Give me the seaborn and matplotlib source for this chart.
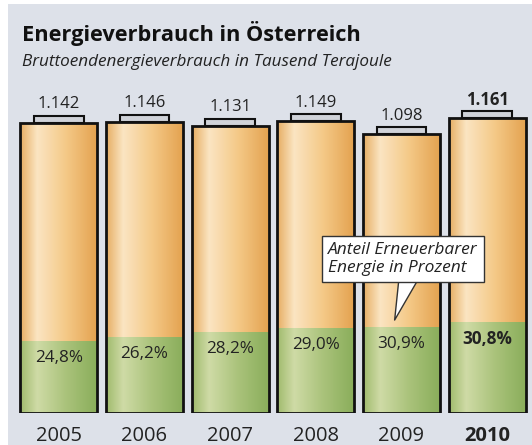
import matplotlib
matplotlib.use("Agg")
import matplotlib.pyplot as plt
import seaborn as sns
import numpy as np
from matplotlib.colors import LinearSegmentedColormap
from matplotlib.patches import Rectangle

# data: gross final energy consumption (thousand TJ) and renewable share (%)
years = ["2005", "2006", "2007", "2008", "2009", "2010"]
total = [1.142, 1.146, 1.131, 1.149, 1.098, 1.161]
share = [24.8, 26.2, 28.2, 29.0, 30.9, 30.8]
green = [t * s / 100 for t, s in zip(total, share)]

sns.set_style("white")
plt.rcParams["font.family"] = ["Open Sans", "DejaVu Sans"]

fig = plt.figure(figsize=(5.32, 4.45), dpi=100)
fig.patch.set_facecolor("white")
fig.patches.append(Rectangle((8 / 532, 0), 1, 1 - 4 / 445, transform=fig.transFigure,
                             facecolor="#dde1e9", edgecolor="none", zorder=-5))

ax = fig.add_axes([16 / 532, 32 / 445, 514 / 532, 0.799])
ax.set_facecolor("none")

sns.barplot(x=years, y=total, color="#f4c887", width=0.9, edgecolor="#111111",
            linewidth=2, ax=ax)
n = len(years)
sns.barplot(x=years, y=green, color="#b5cb86", width=0.9, linewidth=0, ax=ax)

orange_cm = LinearSegmentedColormap.from_list(
    "or", [(0, "#e6ad62"), (0.22, "#fbe5c2"), (0.6, "#f4c886"), (1, "#e3a14e")])
green_cm = LinearSegmentedColormap.from_list(
    "gr", [(0, "#9fba6c"), (0.22, "#cfdba6"), (0.6, "#a9c27a"), (1, "#89ad5a")])
grad = np.linspace(0, 1, 256).reshape(1, -1)

for i, p in enumerate(ax.patches):
    cm = orange_cm if i < n else green_cm
    x0, y0, w, h = p.get_x(), p.get_y(), p.get_width(), p.get_height()
    im = ax.imshow(grad, cmap=cm, aspect="auto", extent=[x0, x0 + w, y0, y0 + h],
                   zorder=1 if i < n else 2)
    im.set_clip_path(p)
    p.set_facecolor("none")
    p.set_zorder(3)

# battery caps
for i, t in enumerate(total):
    ax.add_patch(Rectangle((i - 0.29, t), 0.58, 0.028, facecolor="#d0d3d9",
                           edgecolor="#111111", linewidth=1.5, zorder=2.5))

for i, (t, g, s) in enumerate(zip(total, green, share)):
    wt = "bold" if i == n - 1 else "normal"
    ax.text(i, t + 0.073, f"{t:.3f}", ha="center", va="center", fontsize=12,
            color="#222222", fontweight=wt)
    ax.text(i, g - 0.066, f"{s:.1f}".replace(".", ",") + "%", ha="center",
            va="center", fontsize=12.3, color="#222222", fontweight=wt, zorder=4)

ax.annotate("Anteil Erneuerbarer\nEnergie in Prozent", xy=(3.92, 0.366),
            xytext=(4.02, 0.606), ha="center", va="center", fontsize=12.5,
            fontstyle="italic", color="#222222", multialignment="left",
            bbox=dict(boxstyle="square,pad=0.35", fc="white", ec="#333333", lw=1),
            arrowprops=dict(arrowstyle="wedge,tail_width=1.4,shrink_factor=0.5",
                            fc="white", ec="#333333", lw=1, relpos=(0.56, 0.3),
                            shrinkA=0, shrinkB=0, patchA=None),
            zorder=5)

ax.set_xlim(-0.5, n - 0.5)
ax.set_ylim(0, 1.4)
ax.set_yticks([])
ax.set_xlabel("")
ax.set_ylabel("")
sns.despine(ax=ax, left=True, bottom=True)
ax.tick_params(axis="x", length=0, pad=9.5, labelsize=14.5, labelcolor="#222222")
ax.get_xticklabels()[-1].set_fontweight("bold")

fig.text(22 / 532, 1 - 33 / 445, "Energieverbrauch in Österreich", fontsize=15.7,
         fontweight="bold", va="center", color="#111111")
fig.text(22 / 532, 1 - 62 / 445, "Bruttoendenergieverbrauch in Tausend Terajoule",
         fontsize=12.3, fontstyle="italic", va="center", color="#222222")

fig.savefig("out.png", dpi=100)
